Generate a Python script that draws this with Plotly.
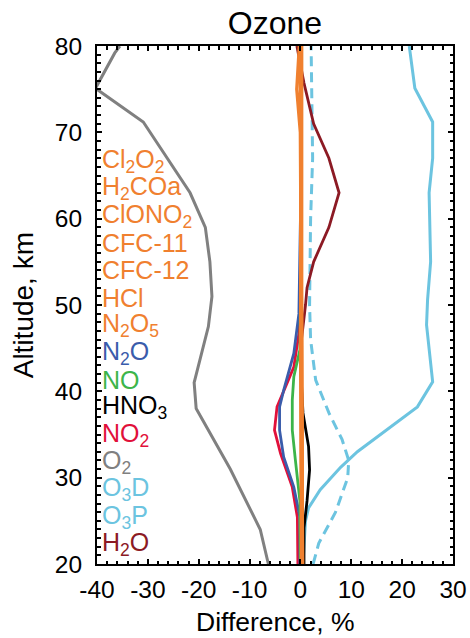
import plotly.graph_objects as go

# ---------------- data ----------------
o2_alt = [20, 24, 31, 38, 41, 47.5, 51, 55, 59, 63, 71.2, 75.1, 79.2, 80]
o2_val = [-6.3, -7.9, -13.8, -20.5, -20.9, -18.1, -17.4, -17.8, -18.7, -21.7, -30.9, -40.3, -36.5, -35.5]

o3d_alt = [20, 22.4, 26, 30, 32, 34.4, 37.5, 41.3, 46, 50, 55, 60, 67, 75, 80]
o3d_val = [2.5, 3.6, 6.9, 9.3, 9.5, 8.2, 5.6, 3.0, 2.0, 1.8, 1.9, 2.0, 2.4, 2.2, 2.1]

o3p_alt = [20, 25, 26.5, 28.6, 31.2, 33, 38.2, 41.1, 47.7, 50.6, 55, 63, 67, 71.2, 75.1, 80]
o3p_val = [0.5, 1.0, 1.6, 3.9, 7.9, 11.2, 23.0, 26.0, 24.8, 25.0, 25.6, 25.3, 26.0, 26.0, 22.5, 21.4]

h2o_alt = [20, 30, 40, 46, 50, 52, 55, 59, 63, 67, 71, 75.7, 80]
h2o_val = [0.2, 0.2, 0.2, 0.2, 1.0, 1.3, 2.6, 5.6, 7.6, 5.6, 2.6, 0.7, -0.7]

no2_alt = [20, 25.4, 28.9, 32.8, 35.5, 38.2, 42.8, 46.7, 50, 60, 70, 80]
no2_val = [-0.5, -0.6, -1.6, -3.9, -5.1, -4.6, -1.3, -0.3, 0.0, 0.0, 0.0, 0.0]

n2o_alt = [20, 25.4, 28.9, 32.4, 35.5, 38.2, 40.1, 44.4, 49, 60, 70, 80]
n2o_val = [-0.1, -0.1, -1.3, -3.3, -4.1, -4.1, -3.3, -1.3, -0.3, 0.0, 0.0, 0.0]

no_alt = [20, 27.3, 32.1, 35.5, 39, 41.7, 44.8, 50, 60, 70, 80]
no_val = [0.0, -0.1, -1.0, -1.6, -1.6, -1.3, -0.1, 0.0, 0.0, 0.0, 0.0]

hno3_alt = [20, 24.2, 27.3, 30.9, 33.6, 37.5, 42, 50, 60, 70, 80]
hno3_val = [0.7, 0.7, 1.3, 1.8, 1.6, 0.5, 0.1, 0.0, 0.0, 0.0, 0.0]

orange_alt = [20, 30, 40, 50, 60, 70, 75, 80]
cl2o2_val = [0.3, 0.2, 0.2, 0.1, 0.1, 0.1, 0.1, 0.1]
h2coa_val = [0.3, 0.2, 0.1, 0.1, 0.1, 0.0, -0.7, -0.2]
clono2_val = [0.4, 0.3, 0.2, 0.1, 0.1, 0.1, 0.1, 0.1]
cfc11_val = [0.3, 0.2, 0.2, 0.2, 0.2, 0.2, 0.2, 0.2]
cfc12_val = [0.3, 0.2, 0.2, 0.2, 0.2, 0.2, 0.2, 0.2]
hcl_val = [0.2, 0.2, 0.1, 0.1, 0.1, 0.1, 0.1, 0.0]
n2o5_val = [0.4, 0.3, 0.2, 0.1, 0.1, 0.1, 0.1, 0.1]

x_ticks = [-40, -30, -20, -10, 0, 10, 20, 30]
x_ticklabels = ["-40", "-30", "-20", "-10", "0", "10", "20", "30"]
y_ticks = [20, 30, 40, 50, 60, 70, 80]

legend_labels = ["Cl<sub>2</sub>O<sub>2</sub>", "H<sub>2</sub>COa", "ClONO<sub>2</sub>",
                 "CFC-11", "CFC-12", "HCl", "N<sub>2</sub>O<sub>5</sub>", "N<sub>2</sub>O",
                 "NO", "HNO<sub>3</sub>", "NO<sub>2</sub>", "O<sub>2</sub>",
                 "O<sub>3</sub>D", "O<sub>3</sub>P", "H<sub>2</sub>O"]

ORANGE = "#F0802F"
BLUE = "#3A5CAB"
GREEN = "#3DB54A"
BLACK = "#000000"
RED = "#E1103A"
GRAY = "#808080"
LBLUE = "#6CC4E0"
DRED = "#8C1A24"

legend_colors = [ORANGE] * 7 + [BLUE, GREEN, BLACK, RED, GRAY, LBLUE, LBLUE, DRED]

fig = go.Figure()

def add(x, y, color, width=3, dash="solid"):
    fig.add_trace(go.Scatter(x=x, y=y, mode="lines",
                             line=dict(color=color, width=width, dash=dash),
                             showlegend=False, hoverinfo="skip"))

add(o2_val, o2_alt, GRAY, 3)
add(o3d_val, o3d_alt, LBLUE, 3, "10px,6px")
add(o3p_val, o3p_alt, LBLUE, 3)
add(h2o_val, h2o_alt, DRED, 2.8)
add(no2_val, no2_alt, RED, 2.8)
add(n2o_val, n2o_alt, BLUE, 2.8)
add(no_val, no_alt, GREEN, 2.8)
add(hno3_val, hno3_alt, BLACK, 2.8)
for v in [cl2o2_val, h2coa_val, clono2_val, cfc11_val, cfc12_val, hcl_val, n2o5_val]:
    add(v, orange_alt, ORANGE, 3.5)

FONT = "Liberation Sans, Arial, Helvetica, sans-serif"

# legend as coloured text
top_px, step_px = 161.0, 27.36
plot_top, plot_h = 46.0, 518.0
for i, (lab, col) in enumerate(zip(legend_labels, legend_colors)):
    py = top_px + i * step_px
    fig.add_annotation(x=-39.2, xref="x", y=1 - (py - plot_top) / plot_h, yref="paper",
                       text=lab, showarrow=False, xanchor="left", yanchor="middle",
                       font=dict(family=FONT, size=25, color=col), borderpad=0)

# axis titles
fig.add_annotation(x=0.5, xref="paper", y=(564 - 621.7) / plot_h, yref="paper",
                   text="Difference, %", showarrow=False, xanchor="center", yanchor="middle",
                   font=dict(family=FONT, size=26.5, color="black"))
fig.add_annotation(x=(23.3 - 97) / 356, xref="paper", y=0.5, yref="paper",
                   text="Altitude, km", showarrow=False, textangle=-90,
                   xanchor="center", yanchor="middle",
                   font=dict(family=FONT, size=28, color="black"))

axis_common = dict(showgrid=False, zeroline=False, showline=True, linecolor="black",
                   linewidth=2, mirror="ticks", ticks="inside", ticklen=5, tickwidth=2,
                   tickcolor="black", automargin=False,
                   tickfont=dict(family=FONT, size=24.5, color="black"))

fig.update_xaxes(range=[-40, 30], tickmode="array", tickvals=x_ticks, ticktext=x_ticklabels,
                 ticklabelstandoff=3,
                 minor=dict(tick0=-40, dtick=2, ticks="inside", ticklen=3.5, tickwidth=1.5,
                            tickcolor="black"),
                 **axis_common)
fig.update_yaxes(range=[20, 80], tickmode="array", tickvals=y_ticks, ticklabelstandoff=8,
                 minor=dict(tick0=20, dtick=1, ticks="inside", ticklen=3.5, tickwidth=1.5,
                            tickcolor="black"),
                 **axis_common)

fig.update_layout(
    template="none",
    width=470, height=638,
    margin=dict(l=97, r=17, t=46, b=74, autoexpand=False),
    paper_bgcolor="white", plot_bgcolor="white",
    title=dict(text="Ozone", x=0.5, xref="paper", xanchor="center",
               y=1 - 22.5 / 638, yref="container", yanchor="middle",
               font=dict(family=FONT, size=32, color="black")),
)

fig.write_html("out.html")
